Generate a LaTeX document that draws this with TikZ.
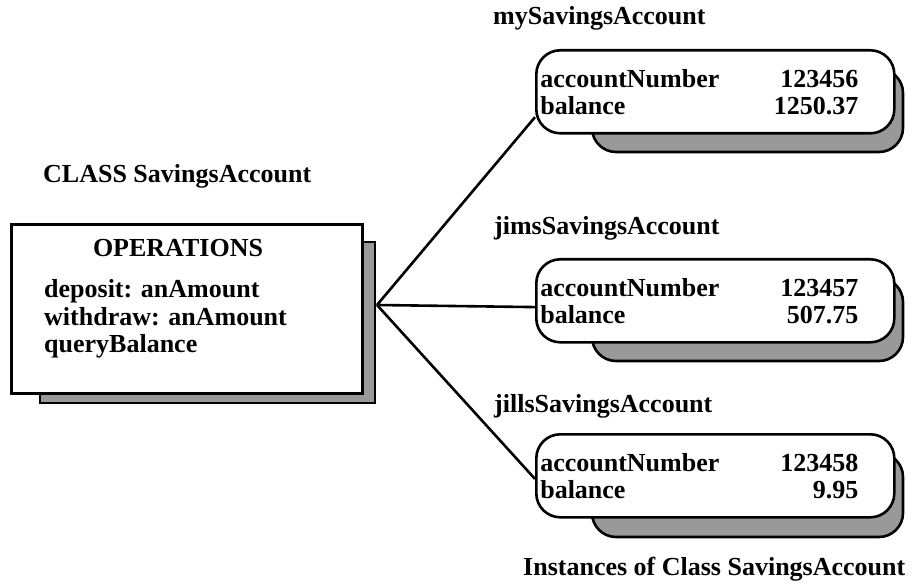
\documentclass[tikz,border=0pt]{standalone}
\usepackage{fontspec}
\setmainfont{Liberation Serif}
\usetikzlibrary{positioning}
\newcommand{\acctLine}[2]{%
	\makebox[350pt][l]{#1\hfill #2\hspace{32pt}}%
}

\begin{document}
\begin{tikzpicture}[x=1pt, y=-1pt,
	every node/.style={font=\fontsize{26}{27}\selectfont\bfseries, inner sep=0pt},
	classbox/.style={draw, line width=2.6pt, fill=white},
	instbox/.style={draw, line width=2.6pt, fill=white, rounded corners=24pt, align=left, inner xsep=4pt, minimum width=358pt, minimum height=83pt, anchor=north west},
	shade/.style={draw, line width=2.6pt, fill=black!40},
	link/.style={line width=2.6pt}]
\useasboundingbox (0,0) rectangle (924,588);

% Draw class box
\node[anchor=base west] (classname) at (43,183) {CLASS SavingsAccount};
\draw[shade] (40,242) rectangle (375,403);
\node[classbox, anchor=north west, minimum width=351pt, minimum height=169pt] (ops) at (10,223) {};
\node[anchor=base] (opshead) at (178,257) {OPERATIONS};
\node[anchor=base west] (deposit) at (44,298) {deposit: anAmount};
\node[anchor=base west] (withdraw) at (44,325) {withdraw: anAmount};
\node[anchor=base west] (query) at (44,352) {queryBalance};

% Draw instances
\node[anchor=base west] (mylabel) at (493,25) {mySavingsAccount};
\draw[shade, rounded corners=24pt] (592,69) rectangle (903,152);
\node[instbox] (mine) at (535,49) {\acctLine{accountNumber}{123456}\\ \acctLine{balance}{1250.37}};

\node[anchor=base west] (jimlabel) at (494,235) {jimsSavingsAccount};
\draw[shade, rounded corners=24pt] (592,278) rectangle (903,361);
\node[instbox] (jims) at (535,258) {\acctLine{accountNumber}{123457}\\ \acctLine{balance}{507.75}};

\node[anchor=base west] (jilllabel) at (494,412) {jillsSavingsAccount};
\draw[shade, rounded corners=24pt] (592,453) rectangle (903,537);
\node[instbox] (jills) at (535,433) {\acctLine{accountNumber}{123458}\\ \acctLine{balance}{9.95}};

\node[anchor=base west] (caption) at (523,575) {Instances of Class SavingsAccount};

% Draw links
\coordinate (hub) at (377,305);
\draw[link] (hub) -- (mine.188);
\draw[link] (hub) -- (jims.182);
\draw[link] (hub) -- (jills.181);
\end{tikzpicture}
\end{document}
